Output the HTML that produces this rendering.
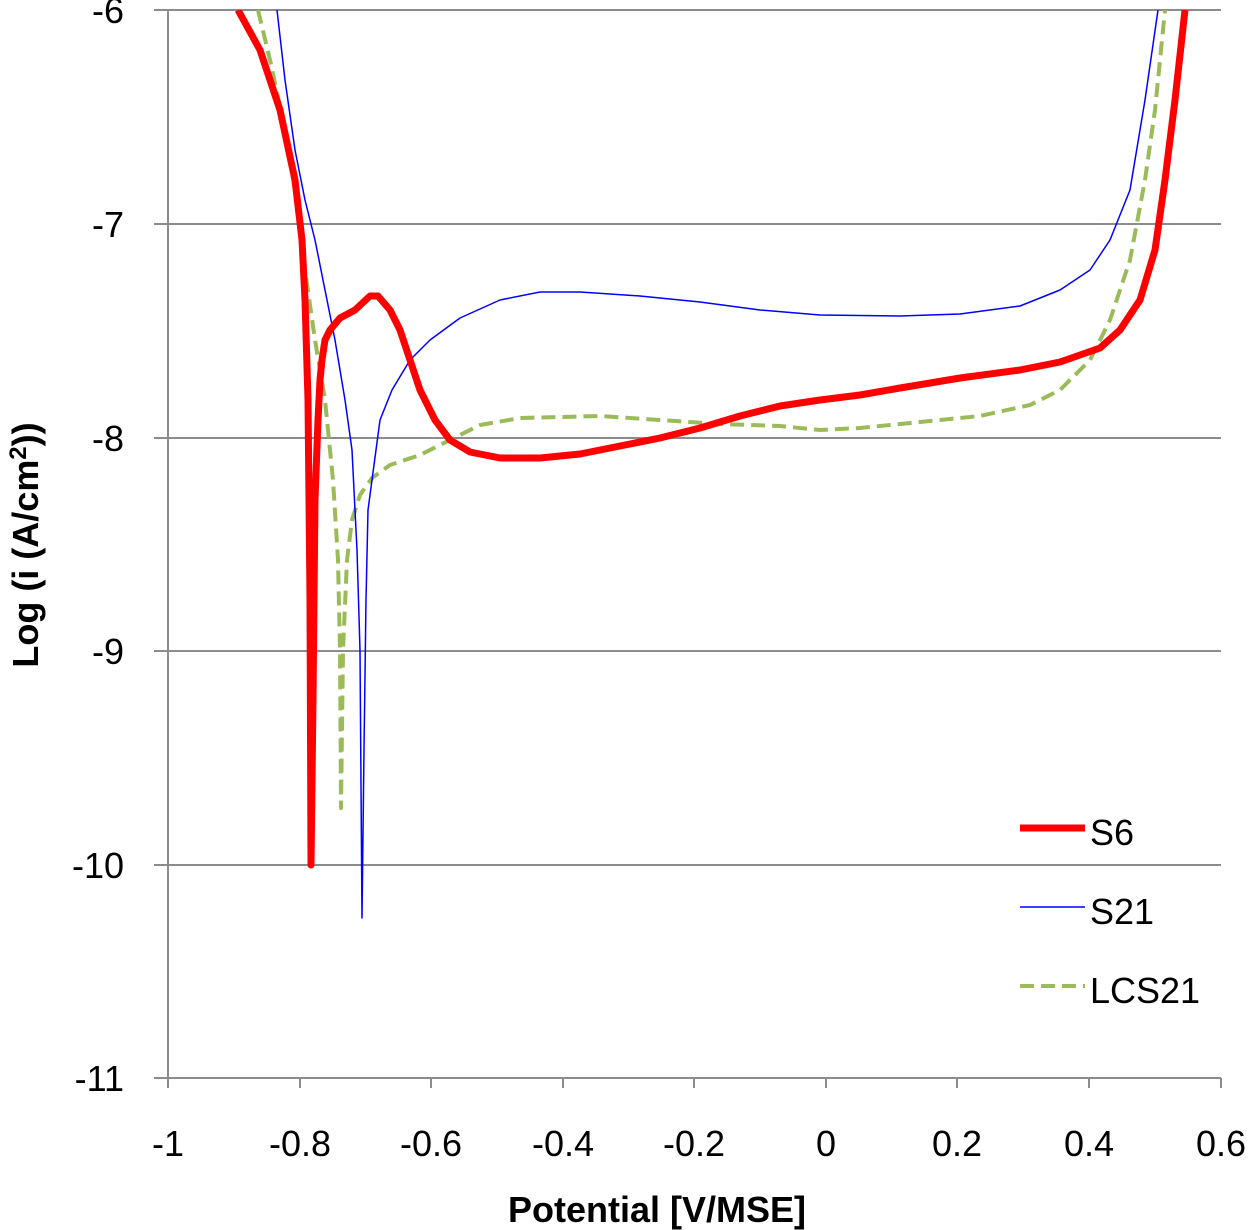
<!DOCTYPE html>
<html><head><meta charset="utf-8"><style>body{margin:0;background:#fff}svg{display:block}</style></head><body>
<svg width="1250" height="1230" xmlns="http://www.w3.org/2000/svg" font-family="'Liberation Sans',sans-serif">
<defs><clipPath id="c"><rect x="168" y="10" width="1060" height="1070"/></clipPath></defs>
<g stroke="#8c8c8c" stroke-width="2">
<line x1="168" y1="10" x2="1221" y2="10"/>
<line x1="168" y1="224" x2="1221" y2="224"/>
<line x1="168" y1="438" x2="1221" y2="438"/>
<line x1="168" y1="651" x2="1221" y2="651"/>
<line x1="168" y1="865" x2="1221" y2="865"/>
<line x1="168" y1="1078" x2="1221" y2="1078"/>
<line x1="168" y1="10" x2="168" y2="1078"/>
<line x1="154" y1="10" x2="168" y2="10"/><line x1="154" y1="224" x2="168" y2="224"/><line x1="154" y1="438" x2="168" y2="438"/><line x1="154" y1="651" x2="168" y2="651"/><line x1="154" y1="865" x2="168" y2="865"/><line x1="154" y1="1078" x2="168" y2="1078"/>
<line x1="168" y1="1078" x2="168" y2="1088"/><line x1="300" y1="1078" x2="300" y2="1088"/><line x1="431" y1="1078" x2="431" y2="1088"/><line x1="563" y1="1078" x2="563" y2="1088"/><line x1="694" y1="1078" x2="694" y2="1088"/><line x1="826" y1="1078" x2="826" y2="1088"/><line x1="957" y1="1078" x2="957" y2="1088"/><line x1="1089" y1="1078" x2="1089" y2="1088"/><line x1="1221" y1="1078" x2="1221" y2="1088"/>
</g>
<g font-size="36" fill="#000" text-anchor="end">
<text x="124" y="23">-6</text><text x="124" y="237">-7</text><text x="124" y="451">-8</text><text x="124" y="664">-9</text><text x="124" y="878">-10</text><text x="124" y="1091">-11</text>
</g>
<g font-size="36" fill="#000" text-anchor="middle">
<text x="168" y="1156">-1</text><text x="300" y="1156">-0.8</text><text x="431" y="1156">-0.6</text><text x="563" y="1156">-0.4</text><text x="694" y="1156">-0.2</text><text x="826" y="1156">0</text><text x="957" y="1156">0.2</text><text x="1089" y="1156">0.4</text><text x="1221" y="1156">0.6</text>
</g>
<text x="657" y="1222" font-size="36" font-weight="bold" text-anchor="middle">Potential [V/MSE]</text>
<text transform="translate(38,545) rotate(-90)" font-size="36" font-weight="bold" text-anchor="middle">Log (i (A/cm<tspan font-size="24" dy="-12">2</tspan><tspan dy="12">))</tspan></text>
<g clip-path="url(#c)" fill="none" stroke-linejoin="round">
<polyline stroke="#9bbb59" stroke-width="4" stroke-dasharray="14,7" points="258,10 270,60 283,120 295,190 305,270 315,340 325,400 333,480 338,560 340,650 341,808 343,650 347,560 352,520 360,495 372,478 390,465 420,455 450,440 480,425 520,418 600,416 660,420 720,424 780,426 820,430 860,428 920,422 980,416 1030,405 1060,390 1090,360 1110,320 1130,260 1145,180 1155,110 1165,10"/>
<polyline stroke="#0000ff" stroke-width="1.5" points="277,10 285,80 295,150 305,200 315,240 325,290 335,340 345,400 352,450 357,550 360,650 362,918 364,750 366,600 368,510 372,480 380,420 392,390 410,360 430,340 460,318 500,300 540,292 580,292 640,296 700,302 760,310 820,315 900,316 960,314 1020,306 1060,290 1090,270 1110,240 1130,190 1145,100 1158,10"/>
<polyline stroke="#ff0000" stroke-width="7" points="238,10 260,50 280,110 295,180 302,240 305,300 308,400 310,600 311,865 313,700 315,500 318,420 320,380 322,360 325,340 330,330 340,318 355,310 370,296 378,296 390,310 400,330 410,360 420,390 435,420 450,440 470,452 500,458 540,458 580,454 620,446 660,438 700,428 740,416 780,406 820,400 860,395 900,388 960,378 1020,370 1060,362 1100,348 1120,330 1140,300 1155,250 1165,180 1175,100 1185,10"/>
</g>
<line x1="1020" y1="828" x2="1085" y2="828" stroke="#ff0000" stroke-width="7"/>
<line x1="1020" y1="907" x2="1085" y2="907" stroke="#0000ff" stroke-width="1.5"/>
<line x1="1020" y1="986" x2="1085" y2="986" stroke="#9bbb59" stroke-width="4" stroke-dasharray="14,7"/>
<g font-size="36" fill="#000"><text x="1090" y="845">S6</text><text x="1090" y="924">S21</text><text x="1090" y="1003">LCS21</text></g>
</svg>
</body></html>
